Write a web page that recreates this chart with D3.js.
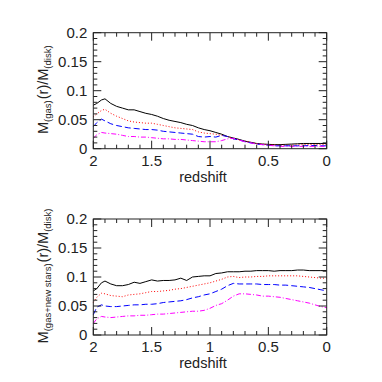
<!DOCTYPE html>
<html>
<head>
<meta charset="utf-8">
<script src="https://cdn.jsdelivr.net/npm/d3@7"></script>
<style>
  html, body { margin: 0; padding: 0; background: #fff; }
  svg { display: block; font-family: "Liberation Sans", Arial, sans-serif; }
</style>
</head>
<body>
<svg id="chart" width="382" height="382"></svg>
<script>
// redshift grid shared by every curve
const redshift = [2.0, 1.97, 1.93, 1.9, 1.85, 1.8, 1.75, 1.7, 1.65, 1.6, 1.55, 1.5, 1.45, 1.4,
  1.35, 1.3, 1.25, 1.2, 1.15, 1.1, 1.05, 1.0, 0.95, 0.9, 0.85, 0.8, 0.75, 0.7, 0.65, 0.6,
  0.55, 0.5, 0.45, 0.4, 0.35, 0.3, 0.25, 0.2, 0.15, 0.1, 0.05, 0.0];

// top panel: M(gas)(r)/M(disk)
const gasBlack = [0.075, 0.078, 0.084, 0.086, 0.078, 0.073, 0.070, 0.067, 0.067, 0.064, 0.061, 0.059, 0.056, 0.052,
  0.049, 0.047, 0.045, 0.042, 0.040, 0.036, 0.033, 0.031, 0.028, 0.025, 0.021, 0.0185, 0.016, 0.013, 0.011, 0.009,
  0.008, 0.0075, 0.007, 0.007, 0.0075, 0.008, 0.0085, 0.009, 0.009, 0.009, 0.009, 0.009];
const gasRed = [0.055, 0.060, 0.066, 0.068, 0.061, 0.056, 0.052, 0.048, 0.046, 0.045, 0.044, 0.044, 0.042, 0.040,
  0.038, 0.036, 0.035, 0.034, 0.033, 0.029, 0.027, 0.026, 0.025, 0.023, 0.021, 0.017, 0.015, 0.013, 0.011, 0.009,
  0.008, 0.007, 0.0065, 0.006, 0.006, 0.006, 0.0065, 0.007, 0.007, 0.007, 0.007, 0.007];
const gasBlue = [0.038, 0.045, 0.051, 0.048, 0.043, 0.040, 0.038, 0.036, 0.035, 0.034, 0.033, 0.033, 0.032, 0.030,
  0.029, 0.028, 0.027, 0.026, 0.025, 0.021, 0.020, 0.021, 0.020, 0.023, 0.021, 0.017, 0.015, 0.012, 0.010, 0.008,
  0.007, 0.006, 0.005, 0.005, 0.005, 0.005, 0.005, 0.005, 0.0055, 0.0055, 0.005, 0.005];
const gasMagenta = [0.018, 0.024, 0.028, 0.027, 0.026, 0.025, 0.023, 0.021, 0.021, 0.020, 0.020, 0.019, 0.018, 0.017,
  0.017, 0.016, 0.016, 0.015, 0.014, 0.013, 0.012, 0.012, 0.012, 0.014, 0.017, 0.018, 0.015, 0.012, 0.010, 0.008,
  0.007, 0.006, 0.005, 0.004, 0.004, 0.004, 0.004, 0.004, 0.004, 0.004, 0.004, 0.004];

// bottom panel: M(gas+new stars)(r)/M(disk)
const starsBlack = [0.076, 0.080, 0.090, 0.093, 0.088, 0.085, 0.085, 0.087, 0.091, 0.089, 0.092, 0.095, 0.093, 0.094,
  0.094, 0.095, 0.098, 0.094, 0.100, 0.101, 0.102, 0.102, 0.106, 0.107, 0.109, 0.109, 0.109, 0.110, 0.110, 0.111,
  0.111, 0.111, 0.110, 0.111, 0.111, 0.111, 0.112, 0.112, 0.111, 0.111, 0.111, 0.111];
const starsRed = [0.056, 0.065, 0.072, 0.071, 0.068, 0.067, 0.066, 0.069, 0.070, 0.071, 0.073, 0.075, 0.075, 0.076,
  0.077, 0.079, 0.080, 0.082, 0.084, 0.086, 0.088, 0.090, 0.093, 0.096, 0.100, 0.101, 0.099, 0.100, 0.100, 0.101,
  0.101, 0.102, 0.102, 0.102, 0.102, 0.102, 0.102, 0.101, 0.100, 0.099, 0.098, 0.098];
const starsBlue = [0.035, 0.048, 0.052, 0.050, 0.049, 0.049, 0.050, 0.051, 0.052, 0.052, 0.053, 0.053, 0.054, 0.056,
  0.057, 0.058, 0.059, 0.061, 0.064, 0.066, 0.069, 0.071, 0.075, 0.079, 0.085, 0.089, 0.088, 0.088, 0.088, 0.088,
  0.087, 0.087, 0.087, 0.086, 0.086, 0.085, 0.084, 0.083, 0.082, 0.080, 0.078, 0.076];
const starsMagenta = [0.020, 0.028, 0.032, 0.031, 0.030, 0.031, 0.032, 0.033, 0.033, 0.034, 0.034, 0.035, 0.036, 0.036,
  0.037, 0.038, 0.039, 0.040, 0.041, 0.041, 0.0425, 0.046, 0.051, 0.054, 0.060, 0.067, 0.071, 0.071, 0.070, 0.069,
  0.067, 0.067, 0.066, 0.065, 0.063, 0.061, 0.059, 0.057, 0.055, 0.052, 0.049, 0.047];

const xTicks = [2, 1.5, 1, 0.5, 0];
const yTicks = [0, 0.05, 0.1, 0.15, 0.2];

const styles = [
  { color: "#000000", dash: null },
  { color: "#ff0000", dash: "1,2" },
  { color: "#0000ff", dash: "6,3" },
  { color: "#ff00ff", dash: "5,2,1,2" }
];

const panels = [
  { top: 32.7, bottom: 148.7, series: [gasBlack, gasRed, gasBlue, gasMagenta],
    label: [["M", ""], ["(gas)", "sub"], ["(r)/M", ""], ["(disk)", "sub"]] },
  { top: 219, bottom: 335, series: [starsBlack, starsRed, starsBlue, starsMagenta],
    label: [["M", ""], ["(gas+new stars)", "sub"], ["(r)/M", ""], ["(disk)", "sub"]] }
];

const marginLeft = 93.3, marginRight = 326.7;
const svg = d3.select("#chart");

panels.forEach(p => {
  const x = d3.scaleLinear().domain([2, 0]).range([marginLeft, marginRight]);
  const y = d3.scaleLinear().domain([0, 0.2]).range([p.bottom, p.top]);
  const g = svg.append("g");

  // curves
  const line = d3.line().x((d, i) => x(redshift[i])).y(d => y(d));
  p.series.forEach((vals, i) => {
    g.append("path")
      .datum(vals)
      .attr("fill", "none")
      .attr("stroke", styles[i].color)
      .attr("stroke-width", 1)
      .attr("stroke-dasharray", styles[i].dash)
      .attr("d", line);
  });

  // inward ticks on all four sides
  const minorX = d3.range(0, 2.0001, 0.1);
  const minorY = d3.range(0, 0.2001, 0.01);
  const tick = (x1, y1, x2, y2) => g.append("line")
    .attr("x1", x1).attr("y1", y1).attr("x2", x2).attr("y2", y2)
    .attr("stroke", "#222").attr("stroke-width", 1);
  minorX.forEach(v => {
    const major = Math.abs(v * 2 - Math.round(v * 2)) < 1e-6;
    const len = major ? 8 : 4;
    tick(x(v), p.bottom, x(v), p.bottom - len);
    tick(x(v), p.top, x(v), p.top + len);
  });
  minorY.forEach(v => {
    const major = Math.abs(v * 20 - Math.round(v * 20)) < 1e-6;
    const len = major ? 8 : 4;
    tick(marginLeft, y(v), marginLeft + len, y(v));
    tick(marginRight, y(v), marginRight - len, y(v));
  });

  // frame
  g.append("rect")
    .attr("x", marginLeft).attr("y", p.top)
    .attr("width", marginRight - marginLeft).attr("height", p.bottom - p.top)
    .attr("fill", "none").attr("stroke", "#222").attr("stroke-width", 1);

  // tick labels
  g.selectAll(".xt").data(xTicks).enter().append("text")
    .attr("x", d => x(d)).attr("y", p.bottom + 17)
    .attr("text-anchor", "middle")
    .style("font-size", "15px").style("fill", "#222")
    .text(d => d);
  g.selectAll(".yt").data(yTicks).enter().append("text")
    .attr("x", marginLeft - 6).attr("y", d => y(d) + 5)
    .attr("text-anchor", "end")
    .style("font-size", "15px").style("fill", "#222")
    .text(d => d);

  // axis titles
  g.append("text")
    .attr("x", 203).attr("y", p.bottom + 33)
    .attr("text-anchor", "middle")
    .style("font-size", "14.5px").style("fill", "#222")
    .text("redshift");

  const yl = g.append("text")
    .attr("transform", `translate(48,${(p.top + p.bottom) / 2 - 1}) rotate(-90)`)
    .attr("text-anchor", "middle")
    .style("font-size", "14.5px").style("fill", "#222");
  p.label.forEach(([t, kind]) => {
    yl.append("tspan")
      .attr("dy", kind === "sub" ? 3 : (t === "(r)/M" ? -3 : 0))
      .attr("dx", t === "(r)/M" ? 1 : 0)
      .style("font-size", kind === "sub" ? "9.5px" : "14.5px")
      .text(t);
  });
});
</script>
</body>
</html>
